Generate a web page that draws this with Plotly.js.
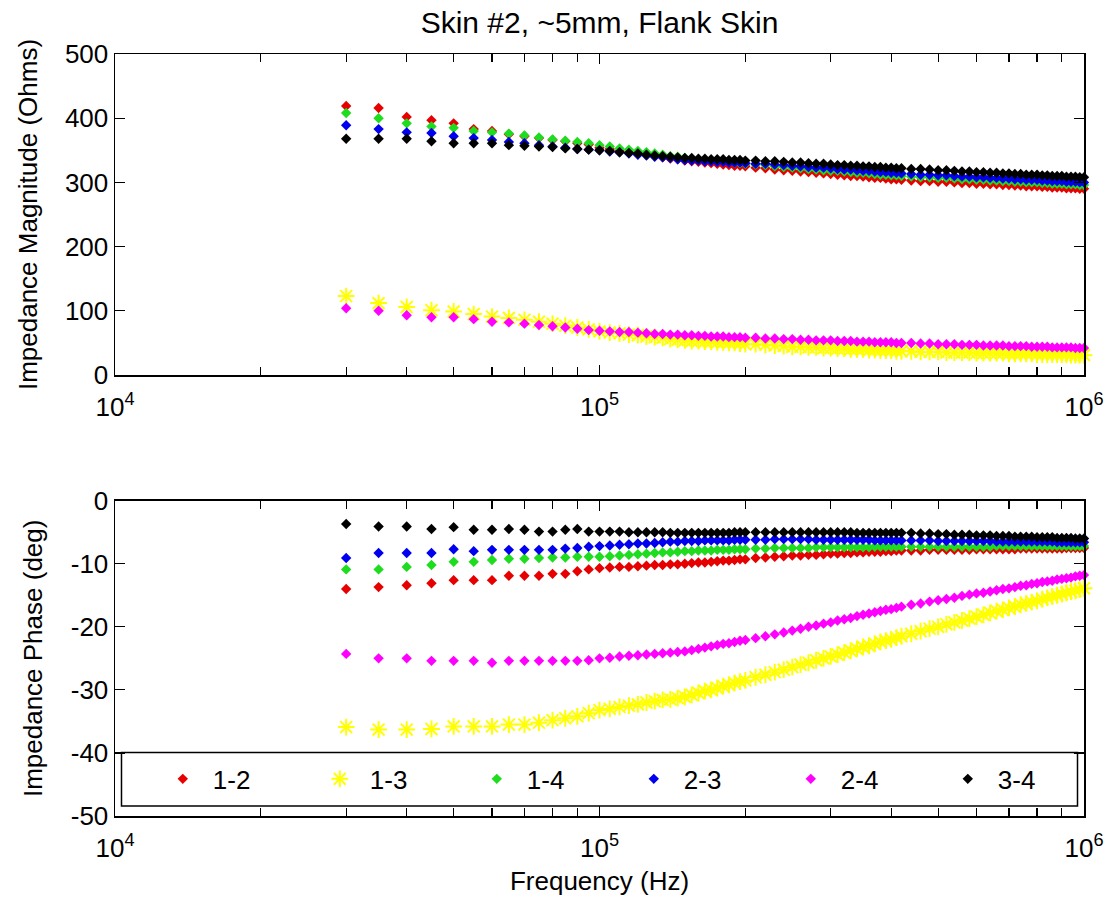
<!DOCTYPE html>
<html><head><meta charset="utf-8">
<script src="https://cdn.plot.ly/plotly-3.0.1.min.js"></script>
<style>html,body{margin:0;padding:0;background:#fff}#chart{width:1109px;height:912px}</style>
</head><body><div id="chart"></div>
<script>
const freqHz = [30000,35000,40000,45000,50000,55000,60000,65000,70000,75000,80000,85000,90000,95000,
100000,105000,110000,115000,120000,125000,130000,135000,140000,145000,150000,155000,160000,165000,170000,175000,180000,185000,190000,195000,200000,
210000,220000,230000,240000,250000,260000,270000,280000,290000,300000,310000,320000,330000,340000,350000,360000,370000,380000,390000,400000,410000,420000,
440000,460000,480000,500000,520000,540000,560000,580000,600000,620000,640000,660000,680000,700000,720000,740000,760000,780000,800000,820000,840000,860000,880000,900000,920000,940000,960000,980000,1000000];

const pairLabels = ['1-2','1-3','1-4','2-3','2-4','3-4'];

// Impedance magnitude (Ohms)
const mag12 = [419,416,402,397,392,383,380,375,372,369,366,364,361,359,
354,352,349,347,345,343,341,339,337,336,334,333,332,331,330,329,328,327,326,326,325,
323,322,320,319,318,317,316,315,314,313,312,311,310,310,309,308,307,307,306,305,305,304,
303,302,302,301,301,300,299,299,298,298,297,297,296,296,295,295,294,294,294,293,293,292,292,292,291,291,291,290,290];
const mag13 = [123,112,106,101,99,95,91,89,86,83,80,77,74,71,
68,66,65,63,62,60,59,58,56,55,54,53,53,52,52,51,51,50,50,49,48,
48,47,46,45,44,44,43,43,42,42,41,41,40,40,40,39,39,38,38,38,37,37,
37,36,36,36,35,35,35,35,34,34,34,34,34,33,33,33,33,33,32,32,32,32,32,32,32,31,31,31,31];
const mag14 = [408,400,392,387,385,380,378,376,373,370,367,365,363,361,
358,356,353,351,349,347,345,343,341,340,338,337,336,335,334,333,333,332,331,330,329,
328,327,325,324,323,322,321,320,319,318,318,317,316,315,315,314,313,312,312,311,311,310,
309,308,308,307,307,306,305,305,304,304,303,303,302,302,301,301,300,300,300,299,299,298,298,298,297,297,297,296,296];
const mag23 = [389,383,378,377,372,369,366,363,361,358,356,354,352,351,
350,348,347,345,343,342,340,339,338,336,335,334,334,333,333,332,332,331,331,331,330,
329,329,328,327,326,325,324,323,323,322,321,320,320,319,318,318,317,316,316,315,315,314,
313,312,312,311,311,310,309,309,308,308,307,307,306,306,305,305,304,304,304,303,303,302,302,302,301,301,301,300,300];
const mag24 = [104,100,93,90,90,87,83,82,80,78,76,74,72,70,
69,68,67,67,66,65,64,64,63,63,62,62,61,61,60,60,60,59,59,59,58,
58,57,57,56,56,55,55,54,54,54,53,53,53,52,52,52,51,51,51,51,50,50,
50,49,49,48,48,48,47,47,47,46,46,46,46,45,45,45,45,44,44,44,44,43,43,43,43,43,42,42,42];
const mag34 = [368,368,368,364,361,361,361,358,357,356,355,353,352,351,
350,349,347,346,345,343,342,341,340,339,338,338,337,337,336,336,336,335,335,335,334,
334,333,333,332,331,331,330,329,329,328,327,327,326,326,325,325,324,324,323,323,322,322,
321,321,320,319,319,318,317,317,316,316,315,315,314,314,313,313,312,312,312,311,311,310,310,310,309,309,309,308,308];

// Impedance phase (deg)
const phase12 = [-14.0,-13.7,-13.4,-13.1,-12.6,-12.6,-12.6,-11.9,-11.9,-11.9,-11.6,-11.6,-11.2,-10.9,
-10.7,-10.6,-10.5,-10.5,-10.4,-10.3,-10.2,-10.2,-10.1,-10.1,-10.0,-9.9,-9.8,-9.8,-9.7,-9.6,-9.5,-9.5,-9.4,-9.3,-9.3,
-9.1,-9.0,-8.9,-8.8,-8.7,-8.7,-8.6,-8.6,-8.5,-8.4,-8.4,-8.3,-8.3,-8.2,-8.2,-8.1,-8.1,-8.1,-8.0,-8.0,-7.9,-7.9,
-7.9,-7.9,-7.8,-7.8,-7.8,-7.8,-7.8,-7.8,-7.7,-7.7,-7.7,-7.7,-7.7,-7.7,-7.7,-7.6,-7.6,-7.6,-7.6,-7.6,-7.6,-7.6,-7.6,-7.6,-7.5,-7.5,-7.5,-7.5,-7.5];
const phase13 = [-35.9,-36.3,-36.3,-36.2,-35.8,-35.8,-35.8,-35.5,-35.5,-35.2,-34.8,-34.5,-34.2,-33.7,
-33.2,-33.0,-32.7,-32.5,-32.3,-32.0,-31.8,-31.6,-31.5,-31.3,-31.1,-30.8,-30.5,-30.2,-30.0,-29.7,-29.4,-29.2,-28.9,-28.7,-28.5,
-28.0,-27.6,-27.2,-26.8,-26.4,-26.0,-25.7,-25.3,-25.0,-24.7,-24.4,-24.1,-23.8,-23.5,-23.2,-23.0,-22.7,-22.4,-22.2,-22.0,-21.7,-21.5,
-21.1,-20.7,-20.3,-20.0,-19.6,-19.3,-19.0,-18.7,-18.4,-18.1,-17.8,-17.5,-17.3,-17.0,-16.8,-16.5,-16.3,-16.1,-15.9,-15.6,-15.4,-15.2,-15.0,-14.8,-14.6,-14.4,-14.3,-14.1,-13.9];
const phase14 = [-10.9,-10.9,-10.5,-10.2,-9.7,-9.7,-9.4,-9.2,-9.2,-9.1,-9.0,-9.0,-8.9,-8.9,
-8.9,-8.8,-8.7,-8.6,-8.5,-8.4,-8.3,-8.2,-8.2,-8.1,-8.0,-8.0,-7.9,-7.9,-7.9,-7.8,-7.8,-7.8,-7.7,-7.7,-7.7,
-7.6,-7.6,-7.5,-7.5,-7.5,-7.5,-7.5,-7.4,-7.4,-7.4,-7.4,-7.4,-7.4,-7.4,-7.4,-7.4,-7.3,-7.3,-7.3,-7.3,-7.3,-7.3,
-7.3,-7.3,-7.3,-7.3,-7.3,-7.3,-7.3,-7.3,-7.3,-7.3,-7.3,-7.2,-7.2,-7.2,-7.2,-7.2,-7.2,-7.2,-7.2,-7.2,-7.2,-7.2,-7.2,-7.2,-7.2,-7.2,-7.2,-7.2,-7.2];
const phase23 = [-9.1,-8.3,-8.3,-8.3,-7.7,-8.0,-7.8,-7.8,-7.8,-7.8,-7.8,-7.6,-7.5,-7.3,
-7.2,-7.1,-7.0,-6.9,-6.8,-6.8,-6.7,-6.6,-6.5,-6.5,-6.4,-6.4,-6.4,-6.3,-6.3,-6.3,-6.3,-6.3,-6.2,-6.2,-6.2,
-6.2,-6.2,-6.1,-6.1,-6.1,-6.1,-6.1,-6.2,-6.2,-6.2,-6.2,-6.2,-6.2,-6.2,-6.2,-6.2,-6.3,-6.3,-6.3,-6.3,-6.3,-6.3,
-6.3,-6.3,-6.3,-6.4,-6.4,-6.4,-6.4,-6.4,-6.4,-6.4,-6.4,-6.5,-6.5,-6.5,-6.5,-6.5,-6.5,-6.5,-6.5,-6.5,-6.5,-6.5,-6.6,-6.6,-6.6,-6.6,-6.6,-6.6,-6.6];
const phase24 = [-24.3,-25.0,-25.0,-25.4,-25.4,-25.4,-25.7,-25.4,-25.4,-25.4,-25.4,-25.4,-25.4,-25.3,
-25.0,-24.9,-24.7,-24.6,-24.5,-24.4,-24.3,-24.2,-24.1,-24.0,-23.9,-23.7,-23.5,-23.3,-23.1,-22.9,-22.7,-22.6,-22.4,-22.2,-22.1,
-21.8,-21.5,-21.2,-20.9,-20.6,-20.3,-20.0,-19.8,-19.5,-19.3,-19.0,-18.8,-18.6,-18.3,-18.1,-17.9,-17.7,-17.5,-17.3,-17.2,-17.0,-16.8,
-16.5,-16.3,-16.0,-15.8,-15.6,-15.4,-15.1,-14.9,-14.7,-14.6,-14.4,-14.2,-14.0,-13.9,-13.7,-13.5,-13.4,-13.2,-13.1,-12.9,-12.8,-12.7,-12.5,-12.4,-12.3,-12.2,-12.0,-11.9,-11.8];
const phase34 = [-3.7,-4.1,-4.1,-4.5,-4.2,-4.6,-4.6,-4.5,-4.6,-4.9,-4.9,-4.6,-4.5,-4.9,
-4.9,-4.9,-4.9,-5.0,-5.0,-5.0,-5.0,-5.0,-5.1,-5.1,-5.1,-5.1,-5.1,-5.1,-5.1,-5.1,-5.1,-5.1,-5.0,-5.0,-5.0,
-5.0,-5.0,-5.0,-5.0,-5.0,-5.0,-5.0,-5.0,-5.0,-5.0,-5.0,-5.0,-5.0,-5.1,-5.1,-5.1,-5.1,-5.1,-5.1,-5.1,-5.1,-5.1,
-5.1,-5.2,-5.2,-5.3,-5.3,-5.4,-5.4,-5.4,-5.5,-5.5,-5.5,-5.6,-5.6,-5.6,-5.7,-5.7,-5.7,-5.7,-5.8,-5.8,-5.8,-5.8,-5.9,-5.9,-5.9,-5.9,-6.0,-6.0,-6.0];

const magSeries = [mag12, mag13, mag14, mag23, mag24, mag34];
const phaseSeries = [phase12, phase13, phase14, phase23, phase24, phase34];
const seriesColors = ['#e60000', '#ffff00', '#1edc1e', '#0000ee', '#ff00ff', '#000000'];
const seriesSymbols = ['diamond', 'asterisk-open', 'diamond', 'diamond', 'diamond', 'diamond'];

const freqTickVals = [10000, 100000, 1000000];
const freqTickText = ['10<sup>4</sup>', '10<sup>5</sup>', '10<sup>6</sup>'];
const minorTickVals = [20000,30000,40000,50000,60000,70000,80000,90000,200000,300000,400000,500000,600000,700000,800000,900000];
const phaseTickVals = [-50,-40,-30,-20,-10,0];
const phaseTickText = ['-50','-40','-30','-20','-10','0'];

const FONT = 'Liberation Sans, Arial, Helvetica, sans-serif';

function markerFor(i) {
  if (seriesSymbols[i] === 'asterisk-open') {
    return {symbol: 'asterisk-open', size: 14, color: seriesColors[i], line: {color: seriesColors[i], width: 2}};
  }
  return {symbol: seriesSymbols[i], size: 8, color: seriesColors[i], line: {width: 0}};
}

const traces = [];
pairLabels.forEach((lab, i) => {
  traces.push({type: 'scatter', mode: 'markers', x: freqHz, y: magSeries[i], xaxis: 'x', yaxis: 'y',
    name: lab, legendgroup: lab, showlegend: false, marker: markerFor(i), cliponaxis: false, hoverinfo: 'x+y+name'});
});
pairLabels.forEach((lab, i) => {
  traces.push({type: 'scatter', mode: 'markers', x: freqHz, y: phaseSeries[i], xaxis: 'x2', yaxis: 'y2',
    name: lab, legendgroup: lab, showlegend: true, marker: markerFor(i), cliponaxis: false, hoverinfo: 'x+y+name'});
});

const axisBase = {
  showline: true, linecolor: '#000', linewidth: 1.5, mirror: 'ticks',
  ticks: 'inside', ticklen: 10, tickwidth: 1.2, tickcolor: '#000',
  showgrid: false, zeroline: false,
  tickfont: {family: FONT, size: 26, color: '#000'}
};
const xBase = Object.assign({}, axisBase, {
  type: 'log', range: [4, 6], tickmode: 'array', tickvals: freqTickVals, ticktext: freqTickText,
  ticklabelstandoff: 8,
  minor: {tickmode: 'array', tickvals: minorTickVals, ticks: 'inside', ticklen: 8, tickwidth: 1.2, tickcolor: '#000', showgrid: false}
});

const layout = {
  width: 1109, height: 912,
  paper_bgcolor: '#fff', plot_bgcolor: '#fff',
  margin: {l: 115, r: 25, t: 54, b: 96},
  font: {family: FONT, size: 26, color: '#000'},
  title: {text: 'Skin #2, ~5mm, Flank Skin', font: {family: FONT, size: 30, color: '#000'},
    x: 0.5, xref: 'paper', xanchor: 'center', y: 1 - 22 / 912, yref: 'container', yanchor: 'middle'},
  xaxis: Object.assign({}, xBase, {anchor: 'y', domain: [0, 1]}),
  yaxis: Object.assign({}, axisBase, {anchor: 'x', domain: [0.5787, 1], range: [0, 500], tickmode: 'linear', tick0: 0, dtick: 100,
    title: {text: 'Impedance Magnitude (Ohms)', font: {family: FONT, size: 26, color: '#000'}, standoff: 20}}),
  xaxis2: Object.assign({}, xBase, {anchor: 'y2', domain: [0, 1],
    title: {text: 'Frequency (Hz)', font: {family: FONT, size: 26, color: '#000'}, standoff: 10}}),
  yaxis2: Object.assign({}, axisBase, {anchor: 'x2', domain: [0, 0.4138], range: [-50, 0], tickmode: 'array',
    tickvals: phaseTickVals, ticktext: phaseTickText,
    title: {text: 'Impedance Phase (deg)', font: {family: FONT, size: 26, color: '#000'}, standoff: 20}}),
  showlegend: true,
  legend: {orientation: 'h', x: 0.039, xanchor: 'left', y: 0.0486, yanchor: 'middle',
    itemwidth: 50, entrywidth: 92, entrywidthmode: 'pixels',
    bgcolor: 'rgba(0,0,0,0)', borderwidth: 0, font: {family: FONT, size: 26, color: '#000'}},
  shapes: [{type: 'rect', xref: 'paper', yref: 'paper', x0: 0.0067, x1: 0.9933, y0: 0.0131, y1: 0.0833,
    line: {color: '#000', width: 1.5}, fillcolor: 'rgba(0,0,0,0)', layer: 'above'}]
};

Plotly.newPlot('chart', traces, layout, {displayModeBar: false, staticPlot: true});
</script>
</body></html>
